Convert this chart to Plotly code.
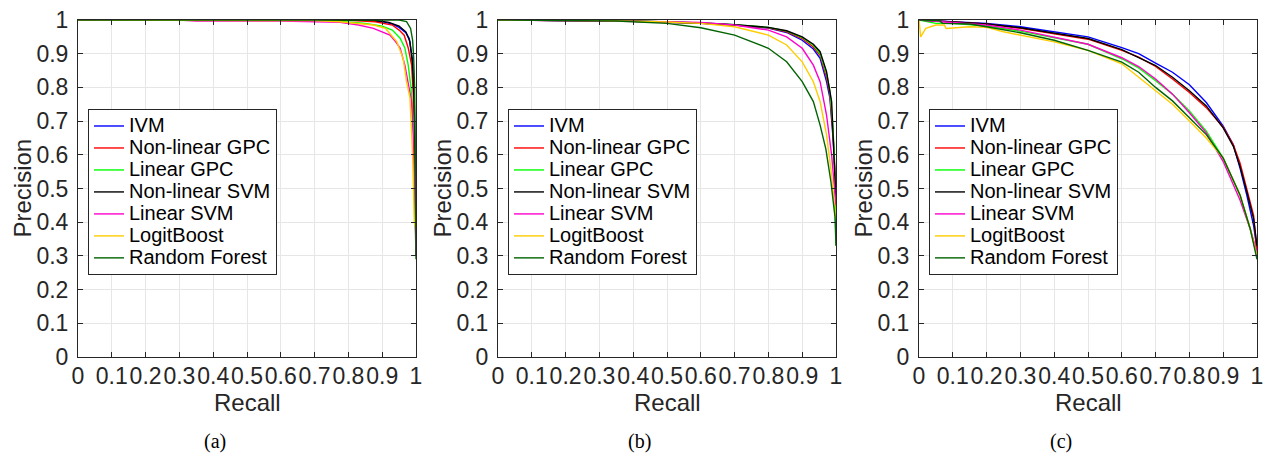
import plotly.graph_objects as go

W, H = 1263, 454

methods = ["IVM", "Non-linear GPC", "Linear GPC", "Non-linear SVM",
           "Linear SVM", "LogitBoost", "Random Forest"]
colors = ["#0000ff", "#ff0000", "#00ff00", "#000000",
          "#ff00cc", "#ffcc00", "#006400"]

# ---------------- panel (a) ----------------
a_ivm_r = [0, 0.85, 0.9, 0.93, 0.95, 0.97, 0.98, 0.99, 0.995, 0.998, 1.0]
a_ivm_p = [1, 1.0, 0.995, 0.988, 0.978, 0.962, 0.945, 0.88, 0.75, 0.5, 0.3]
a_ngpc_r = [0, 0.8, 0.88, 0.93, 0.95, 0.965, 0.977, 0.987, 0.992, 0.996, 1.0]
a_ngpc_p = [1, 0.999, 0.995, 0.985, 0.97, 0.955, 0.917, 0.866, 0.78, 0.6, 0.3]
a_lgpc_r = [0, 0.75, 0.85, 0.9, 0.93, 0.953, 0.967, 0.977, 0.985, 0.992, 0.997, 1.0]
a_lgpc_p = [1, 0.998, 0.99, 0.982, 0.97, 0.946, 0.917, 0.866, 0.8, 0.7, 0.5, 0.3]
a_nsvm_r = [0, 0.87, 0.92, 0.95, 0.97, 0.982, 0.99, 0.995, 1.0]
a_nsvm_p = [1, 1.0, 0.993, 0.982, 0.965, 0.936, 0.866, 0.75, 0.3]
a_lsvm_r = [0, 0.3, 0.35, 0.6, 0.775, 0.83, 0.874, 0.9, 0.923, 0.94, 0.953, 0.967, 0.977, 0.987, 0.992, 0.996, 1.0]
a_lsvm_p = [1, 1.0, 0.997, 0.997, 0.993, 0.985, 0.975, 0.965, 0.955, 0.935, 0.917, 0.866, 0.817, 0.758, 0.65, 0.5, 0.3]
a_lb_r = [0, 0.7, 0.775, 0.874, 0.91, 0.943, 0.962, 0.972, 0.982, 0.99, 0.995, 1.0]
a_lb_p = [1, 0.998, 0.995, 0.985, 0.975, 0.936, 0.886, 0.817, 0.77, 0.6, 0.4, 0.38]
a_rf_r = [0, 0.95, 0.972, 0.984, 0.99, 0.993, 0.996, 0.999, 1.0]
a_rf_p = [1, 1.0, 0.995, 0.975, 0.94, 0.89, 0.8, 0.5, 0.29]

# ---------------- panel (b) ----------------
b_ivm_r = [0, 0.2, 0.4, 0.6, 0.7, 0.8, 0.854, 0.9, 0.933, 0.953, 0.972, 0.982, 0.992, 0.997, 1.0]
b_ivm_p = [1, 0.999, 0.996, 0.99, 0.985, 0.976, 0.963, 0.94, 0.914, 0.886, 0.817, 0.768, 0.64, 0.54, 0.45]
b_ngpc_r = [0, 0.4, 0.6, 0.7, 0.8, 0.854, 0.9, 0.933, 0.953, 0.972, 0.982, 0.992, 0.997, 1.0]
b_ngpc_p = [1, 0.996, 0.99, 0.985, 0.977, 0.965, 0.945, 0.92, 0.895, 0.83, 0.78, 0.65, 0.55, 0.44]
b_lgpc_r = [0, 0.4, 0.6, 0.7, 0.8, 0.854, 0.9, 0.933, 0.953, 0.972, 0.982, 0.99, 0.995, 0.998, 1.0]
b_lgpc_p = [1, 0.997, 0.991, 0.986, 0.978, 0.967, 0.948, 0.925, 0.9, 0.84, 0.79, 0.7, 0.6, 0.45, 0.33]
b_nsvm_r = [0, 0.4, 0.6, 0.7, 0.8, 0.854, 0.9, 0.933, 0.953, 0.972, 0.987, 0.994, 1.0]
b_nsvm_p = [1, 0.997, 0.991, 0.986, 0.978, 0.968, 0.95, 0.928, 0.906, 0.847, 0.758, 0.62, 0.46]
b_lsvm_r = [0, 0.3, 0.5, 0.6, 0.7, 0.8, 0.854, 0.9, 0.933, 0.953, 0.972, 0.987, 0.997, 1.0]
b_lsvm_p = [1, 0.998, 0.995, 0.993, 0.985, 0.97, 0.95, 0.916, 0.866, 0.817, 0.718, 0.6, 0.48, 0.45]
b_lb_r = [0, 0.3, 0.5, 0.6, 0.7, 0.8, 0.854, 0.9, 0.933, 0.953, 0.972, 0.987, 0.997, 1.0]
b_lb_p = [1, 0.998, 0.994, 0.99, 0.98, 0.955, 0.926, 0.876, 0.817, 0.758, 0.659, 0.54, 0.436, 0.41]
b_rf_r = [0, 0.2, 0.35, 0.5, 0.6, 0.7, 0.8, 0.854, 0.9, 0.933, 0.953, 0.97, 0.985, 0.997, 1.0]
b_rf_p = [1, 0.999, 0.997, 0.99, 0.977, 0.955, 0.916, 0.876, 0.817, 0.758, 0.688, 0.617, 0.52, 0.416, 0.33]

# ---------------- panel (c) ----------------
c_ivm_r = [0, 0.1, 0.2, 0.3, 0.4, 0.5, 0.6, 0.65, 0.7, 0.75, 0.8, 0.85, 0.9, 0.93, 0.95, 0.97, 0.99, 1.0]
c_ivm_p = [1, 0.995, 0.99, 0.98, 0.965, 0.95, 0.918, 0.9, 0.872, 0.845, 0.808, 0.755, 0.685, 0.63, 0.56, 0.48, 0.39, 0.32]
c_ngpc_r = [0, 0.1, 0.2, 0.3, 0.4, 0.5, 0.6, 0.65, 0.7, 0.75, 0.8, 0.85, 0.9, 0.93, 0.95, 0.97, 0.99, 1.0]
c_ngpc_p = [1, 0.995, 0.988, 0.975, 0.96, 0.943, 0.91, 0.89, 0.862, 0.825, 0.785, 0.74, 0.682, 0.63, 0.575, 0.5, 0.42, 0.31]
c_lgpc_r = [0, 0.05, 0.1, 0.2, 0.3, 0.4, 0.5, 0.6, 0.65, 0.7, 0.75, 0.8, 0.85, 0.9, 0.95, 0.98, 1.0]
c_lgpc_p = [1, 0.99, 0.99, 0.982, 0.967, 0.948, 0.928, 0.885, 0.858, 0.82, 0.78, 0.73, 0.67, 0.59, 0.48, 0.38, 0.3]
c_nsvm_r = [0, 0.1, 0.2, 0.3, 0.4, 0.5, 0.6, 0.7, 0.75, 0.8, 0.85, 0.9, 0.93, 0.95, 0.97, 0.99, 1.0]
c_nsvm_p = [1, 0.995, 0.988, 0.977, 0.96, 0.945, 0.912, 0.865, 0.83, 0.79, 0.745, 0.68, 0.625, 0.565, 0.49, 0.41, 0.33]
c_lsvm_r = [0, 0.1, 0.2, 0.3, 0.4, 0.5, 0.6, 0.65, 0.7, 0.75, 0.8, 0.85, 0.9, 0.95, 0.98, 1.0]
c_lsvm_p = [1, 0.993, 0.985, 0.97, 0.95, 0.928, 0.888, 0.862, 0.825, 0.78, 0.725, 0.665, 0.58, 0.465, 0.38, 0.31]
c_lb_r = [0, 0.005, 0.02, 0.05, 0.075, 0.08, 0.15, 0.2, 0.25, 0.3, 0.4, 0.5, 0.6, 0.65, 0.7, 0.75, 0.8, 0.85, 0.9, 0.95, 0.98, 1.0]
c_lb_p = [1, 0.95, 0.975, 0.985, 0.985, 0.975, 0.98, 0.978, 0.965, 0.955, 0.935, 0.91, 0.87, 0.83, 0.79, 0.75, 0.7, 0.65, 0.59, 0.48, 0.38, 0.3]
c_rf_r = [0, 0.06, 0.07, 0.15, 0.2, 0.3, 0.4, 0.5, 0.6, 0.65, 0.7, 0.75, 0.8, 0.85, 0.9, 0.95, 0.98, 1.0]
c_rf_p = [1, 0.998, 0.99, 0.988, 0.98, 0.962, 0.94, 0.91, 0.875, 0.845, 0.8, 0.76, 0.71, 0.66, 0.59, 0.48, 0.38, 0.29]

panels = [
    [(a_ivm_r, a_ivm_p), (a_ngpc_r, a_ngpc_p), (a_lgpc_r, a_lgpc_p), (a_nsvm_r, a_nsvm_p),
     (a_lsvm_r, a_lsvm_p), (a_lb_r, a_lb_p), (a_rf_r, a_rf_p)],
    [(b_ivm_r, b_ivm_p), (b_ngpc_r, b_ngpc_p), (b_lgpc_r, b_lgpc_p), (b_nsvm_r, b_nsvm_p),
     (b_lsvm_r, b_lsvm_p), (b_lb_r, b_lb_p), (b_rf_r, b_rf_p)],
    [(c_ivm_r, c_ivm_p), (c_ngpc_r, c_ngpc_p), (c_lgpc_r, c_lgpc_p), (c_nsvm_r, c_nsvm_p),
     (c_lsvm_r, c_lsvm_p), (c_lb_r, c_lb_p), (c_rf_r, c_rf_p)],
]
captions = ["(a)", "(b)", "(c)"]
tick_vals = [0, 0.1, 0.2, 0.3, 0.4, 0.5, 0.6, 0.7, 0.8, 0.9, 1]
tick_text = ["0", "0.1", "0.2", "0.3", "0.4", "0.5", "0.6", "0.7", "0.8", "0.9", "1"]

# pixel layout
left_px = [78, 498, 919]
plot_w = 338
top_px, bot_px = 20, 357
caption_x = [215, 640, 1061]

FONT = "Liberation Sans, Arial, Helvetica, sans-serif"
AXC = "#262626"

fig = go.Figure()
for i, panel in enumerate(panels):
    xa = "x" if i == 0 else f"x{i+1}"
    ya = "y" if i == 0 else f"y{i+1}"
    lg = "legend" if i == 0 else f"legend{i+1}"
    for j, (r, p) in enumerate(panel):
        fig.add_trace(go.Scatter(
            x=r, y=p, mode="lines",
            name=f'<span style="font-size:20px">{methods[j]}</span>',
            line=dict(color=colors[j], width=1.4),
            xaxis=xa, yaxis=ya, legend=lg, showlegend=True))

layout = dict(
    width=W, height=H,
    margin=dict(l=0, r=0, t=0, b=0, pad=0, autoexpand=False),
    paper_bgcolor="white", plot_bgcolor="white",
    font=dict(family=FONT, color=AXC),
    annotations=[],
)
for i in range(3):
    sfx = "" if i == 0 else str(i + 1)
    x0 = left_px[i] / W
    x1 = (left_px[i] + plot_w) / W
    y0 = 1 - bot_px / H
    y1 = 1 - top_px / H
    common = dict(
        range=[0, 1], showline=True, linecolor=AXC, linewidth=1, mirror="ticks",
        ticks="inside", ticklen=5, tickcolor=AXC, tickwidth=1,
        showgrid=True, gridcolor="#e6e6e6", gridwidth=1, zeroline=False,
        tickvals=tick_vals, ticktext=tick_text, tickangle=0, automargin=False,
        ticklabeloverflow="allow",
        tickfont=dict(family=FONT, size=23, color=AXC), fixedrange=True,
    )
    layout["xaxis" + sfx] = dict(domain=[x0, x1], anchor="y" + sfx, ticklabelstandoff=-2, **common)
    layout["yaxis" + sfx] = dict(domain=[y0, y1], anchor="x" + sfx, ticklabelstandoff=4, **common)
    layout["legend" + sfx] = dict(
        x=(left_px[i] + 10) / W, y=1 - 109 / H, xanchor="left", yanchor="top",
        xref="paper", yref="paper",
        bgcolor="white", bordercolor=AXC, borderwidth=1,
        font=dict(family=FONT, size=14.6, color="#000000"),
        itemwidth=30, tracegroupgap=0,
    )
    cx = (left_px[i] + plot_w / 2) / W
    layout["annotations"].append(dict(
        text="Recall", x=cx, y=1 - 402 / H, xref="paper", yref="paper",
        showarrow=False, xanchor="center", yanchor="middle",
        font=dict(family=FONT, size=24, color=AXC)))
    layout["annotations"].append(dict(
        text="Precision", x=(left_px[i] - 56) / W, y=1 - 188.5 / H, xref="paper", yref="paper",
        showarrow=False, xanchor="center", yanchor="middle", textangle=-90,
        font=dict(family=FONT, size=24, color=AXC)))
    layout["annotations"].append(dict(
        text=captions[i], x=caption_x[i] / W, y=1 - 441 / H, xref="paper", yref="paper",
        showarrow=False, xanchor="center", yanchor="middle",
        font=dict(family="Liberation Serif, Times New Roman, serif", size=20, color="#000000")))

fig.update_layout(**layout)
fig.write_html("out.html")
